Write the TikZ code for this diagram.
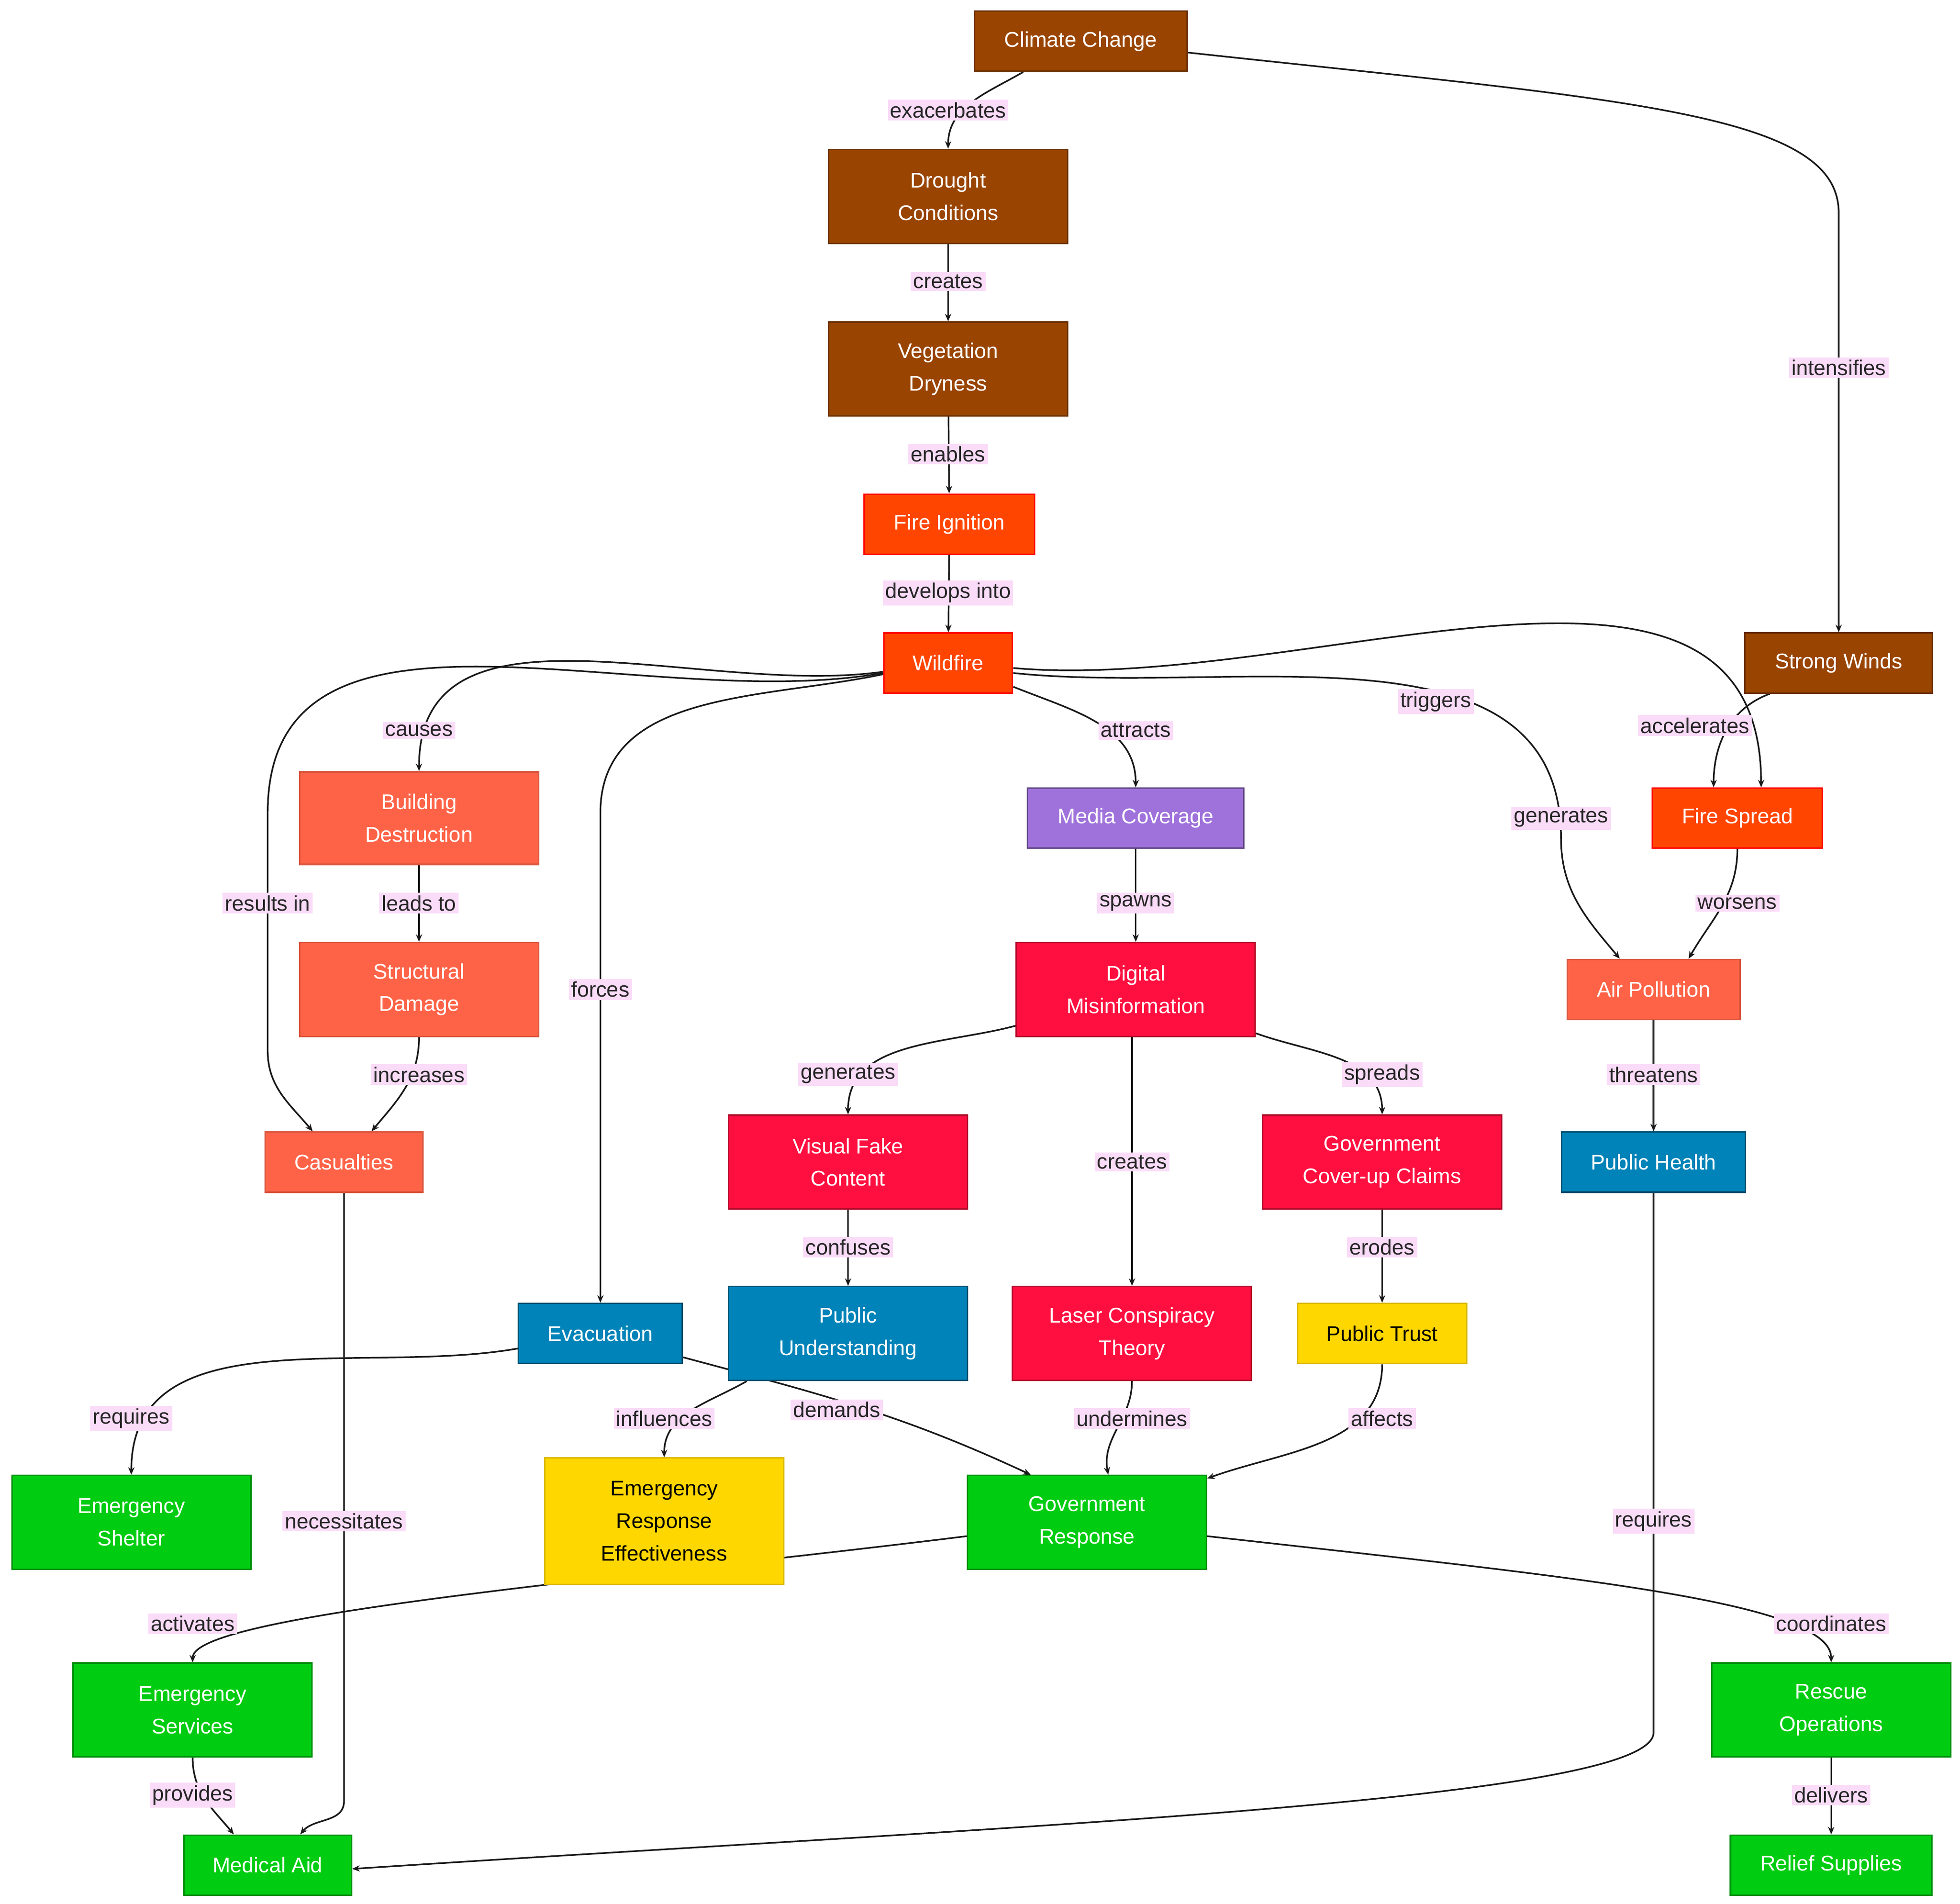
\documentclass[tikz,border=0pt]{standalone}
\usepackage{fontspec}
\setmainfont{Liberation Sans}
\usetikzlibrary{arrows.meta}
\pgfdeclarelayer{bg}\pgfsetlayers{bg,main}
\definecolor{brn}{HTML}{994400}
\definecolor{fire}{HTML}{FF4500}
\definecolor{tom}{HTML}{FF6347}
\definecolor{purp}{HTML}{9F72DB}
\definecolor{crim}{HTML}{FF0F3F}
\definecolor{blu}{HTML}{0083B8}
\definecolor{gld}{HTML}{FFD700}
\definecolor{grn}{HTML}{00CC11}
\definecolor{lbl}{HTML}{FADCF8}
\begin{document}
\begin{tikzpicture}[x=1pt,y=-1pt,
 box/.style={draw,line width=1.2pt,align=center,inner sep=0pt,text=white,font=\fontsize{17}{26}\selectfont},
 br/.style={box,fill=brn,draw=brn!70!black},
 fi/.style={box,fill=fire,draw=red},
 to/.style={box,fill=tom,draw=tom!85!black},
 pu/.style={box,fill=purp,draw=purp!60!black},
 cr/.style={box,fill=crim,draw=crim!70!black},
 bl/.style={box,fill=blu,draw=blu!60!black},
 go/.style={box,fill=gld,draw=gld!85!black,text=black},
 gr/.style={box,fill=grn,draw=grn!70!black},
 l/.style={fill=lbl,text=black!85,inner sep=2pt,font=\fontsize{17}{20}\selectfont},
 e/.style={draw=black!90,line width=1.3pt,-{Stealth[length=6pt,width=5pt]}}]
\useasboundingbox (0,0) rectangle (1567,1522);
\node[br,minimum width=170,minimum height=48] (cc) at (864,33) {Climate Change};
\node[br,minimum width=191,minimum height=75] (dr) at (758,157) {Drought\\Conditions};
\node[br,minimum width=191,minimum height=75] (veg) at (758,295) {Vegetation\\Dryness};
\node[fi,minimum width=136,minimum height=48] (ig) at (759,419) {Fire Ignition};
\node[fi,minimum width=103,minimum height=48] (wf) at (758,530) {Wildfire};
\node[br,minimum width=150,minimum height=48] (sw) at (1470,530) {Strong Winds};
\node[to,minimum width=191,minimum height=74] (bd) at (335,654) {Building\\Destruction};
\node[pu,minimum width=173,minimum height=48] (mc) at (908,654) {Media Coverage};
\node[fi,minimum width=136,minimum height=48] (fs) at (1389,654) {Fire Spread};
\node[to,minimum width=191,minimum height=75] (sd) at (335,791) {Structural\\Damage};
\node[cr,minimum width=191,minimum height=75] (dm) at (908,791) {Digital\\Misinformation};
\node[to,minimum width=138,minimum height=48] (ap) at (1322,791) {Air Pollution};
\node[to,minimum width=126,minimum height=48] (cas) at (275,929) {Casualties};
\node[cr,minimum width=191,minimum height=75] (vf) at (678,929) {Visual Fake\\Content};
\node[cr,minimum width=191,minimum height=75] (gc) at (1105,929) {Government\\Cover-up Claims};
\node[bl,minimum width=147,minimum height=48] (ph) at (1322,929) {Public Health};
\node[bl,minimum width=131,minimum height=48] (ev) at (480,1066) {Evacuation};
\node[bl,minimum width=191,minimum height=75] (pub) at (678,1066) {Public\\Understanding};
\node[cr,minimum width=191,minimum height=75] (lc) at (905,1066) {Laser Conspiracy\\Theory};
\node[go,minimum width=135,minimum height=48] (pt) at (1105,1066) {Public Trust};
\node[gr,minimum width=191,minimum height=75] (es2) at (105,1217) {Emergency\\Shelter};
\node[go,minimum width=191,minimum height=101] (ere) at (531,1216) {Emergency\\Response\\Effectiveness};
\node[gr,minimum width=191,minimum height=75] (gr) at (869,1217) {Government\\Response};
\node[gr,minimum width=191,minimum height=75] (es) at (154,1367) {Emergency\\Services};
\node[gr,minimum width=191,minimum height=75] (ro) at (1464,1367) {Rescue\\Operations};
\node[gr,minimum width=134,minimum height=48] (ma) at (214,1491) {Medical Aid};
\node[gr,minimum width=161,minimum height=48] (rs) at (1464,1491) {Relief Supplies};
\coordinate (c1) at (1470,170);
\coordinate (c2) at (214,650);
\coordinate (c3) at (214,840);
\coordinate (c4) at (480,650);
\coordinate (c5) at (1248,670);
\coordinate (c7) at (275,1440);
\coordinate (c8) at (1322,1385);
\begin{pgfonlayer}{bg}
\draw[e] ([xshift=-46pt]cc.south) to[out=-150,in=90] (dr.north);
\draw[e] ([yshift=-9pt]cc.east) .. controls (1300,80) and (1470,90) .. (c1) -- (sw.north);
\draw[e] (dr) -- (veg);
\draw[e] (veg) -- (ig);
\draw[e] (ig) -- (wf);
\draw[e] ([yshift=-7pt]wf.west) to[out=188,in=90] (bd.north);
\draw[e] ([yshift=-8pt]wf.west) to[out=190,in=90] (c2) -- (c3) to[out=-90,in=130] ([xshift=-25pt]cas.north);
\draw[e] ([yshift=-9pt]wf.west) to[out=192,in=90] (c4) -- (ev.north);
\draw[e] ([yshift=-19pt]wf.east) to[out=-22,in=90] (mc.north);
\draw[e] ([yshift=-8pt]wf.east) to[out=-6,in=90] (c5) to[out=-90,in=130] ([xshift=-27pt]ap.north);
\draw[e] ([yshift=-4pt]wf.east) to[out=-5,in=90] ([xshift=19pt]fs.north);
\draw[e] ([xshift=-55pt]sw.south) to[out=200,in=90] ([xshift=-19pt]fs.north);
\draw[e] (bd) -- (sd);
\draw[e] (mc) -- (dm);
\draw[e] (fs.south) to[out=-90,in=60] ([xshift=28pt]ap.north);
\draw[e] (sd.south) to[out=-90,in=50] ([xshift=22pt]cas.north);
\draw[e] ([yshift=-29pt]dm.west) to[out=195,in=90] (vf.north);
\draw[e] ([xshift=-3pt]dm.south) -- (lc.north);
\draw[e] ([yshift=-35pt]dm.east) to[out=-20,in=90] (gc.north);
\draw[e] (ap) -- (ph);
\draw[e] (vf) -- (pub);
\draw[e] (gc) -- (pt);
\draw[e] (cas.south) -- (c7) to[out=-90,in=50] ([xshift=26pt]ma.north);
\draw[e] ([yshift=-12pt]ev.west) to[out=190,in=90] (es2.north);
\draw[e] ([yshift=-19pt]ev.east) to[out=-15,in=155] ([xshift=-45pt]gr.north);
\draw[e] ([xshift=-81pt]pub.south) to[out=-150,in=90] (ere.north);
\draw[e] (lc.south) to[out=-90,in=100] ([xshift=17pt]gr.north);
\draw[e] (pt.south) to[out=-90,in=20] ([yshift=-3pt]gr.north east);
\draw[e] ([yshift=-11pt]gr.west) .. controls (500,1262) and (154,1290) .. (es.north);
\draw[e] ([yshift=-11pt]gr.east) .. controls (1250,1260) and (1464,1280) .. (ro.north);
\draw[e] (ph.south) -- (c8) .. controls (1322,1440) and (800,1460) .. ([yshift=-3pt]ma.east);
\draw[e] (es.south) to[out=-90,in=130] ([xshift=-27pt]ma.north);
\draw[e] (ro) -- (rs);
\end{pgfonlayer}
\node[l] (l1) at (758,88) {exacerbates};
\node[l] (l2) at (1470,294) {intensifies};
\node[l] (l3) at (758,225) {creates};
\node[l] (l4) at (758,363) {enables};
\node[l] (l5) at (758,474) {develops into};
\node[l] (l6) at (335,584) {causes};
\node[l] (l7) at (214,722) {results in};
\node[l] (l8) at (480,791) {forces};
\node[l] (l9) at (908,584) {attracts};
\node[l] (l10) at (1248,654) {generates};
\node[l] (l11) at (1148,561) {triggers};
\node[l] (l12) at (1355,580) {accelerates};
\node[l] (l13) at (335,722) {leads to};
\node[l] (l14) at (908,722) {spawns};
\node[l] (l15) at (1389,722) {worsens};
\node[l] (l16) at (335,859) {increases};
\node[l] (l17) at (678,859) {generates};
\node[l] (l18) at (905,929) {creates};
\node[l] (l19) at (1105,859) {spreads};
\node[l] (l20) at (1322,859) {threatens};
\node[l] (l21) at (678,997) {confuses};
\node[l] (l22) at (1105,997) {erodes};
\node[l] (l23) at (275,1216) {necessitates};
\node[l] (l24) at (105,1134) {requires};
\node[l] (l25) at (669,1127) {demands};
\node[l] (l26) at (531,1134) {influences};
\node[l] (l27) at (905,1134) {undermines};
\node[l] (l28) at (1105,1134) {affects};
\node[l] (l29) at (154,1298) {activates};
\node[l] (l30) at (1464,1298) {coordinates};
\node[l] (l31) at (1322,1216) {requires};
\node[l] (l32) at (154,1435) {provides};
\node[l] (l33) at (1464,1435) {delivers};
\end{tikzpicture}
\end{document}
